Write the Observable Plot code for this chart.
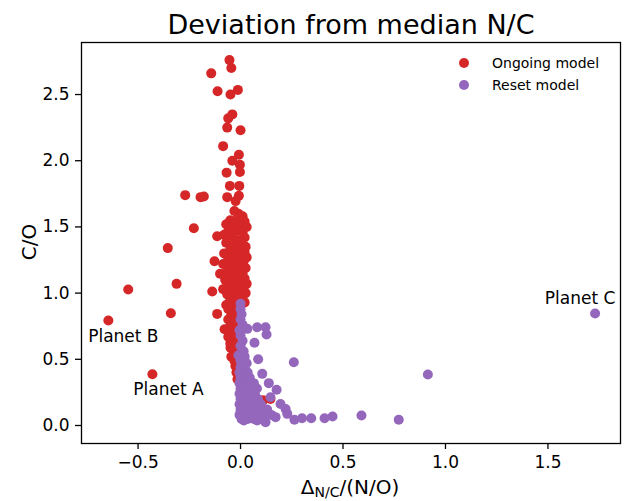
<!DOCTYPE html>
<html>
<head>
<meta charset="utf-8">
<script src="https://cdn.jsdelivr.net/npm/d3@7"></script>
<script src="https://cdn.jsdelivr.net/npm/@observablehq/plot@0.6"></script>
<style>
  html, body { margin: 0; padding: 0; background: #fff; }
  #wrap { position: relative; width: 628px; height: 501px; font-family: "DejaVu Sans", sans-serif; color: #000; }
  #wrap svg { position: absolute; left: 0; top: 0; }
  .lab { position: absolute; line-height: 1; white-space: nowrap; transform: translate(-50%, -50%); }
  .leg { position: absolute; line-height: 1; white-space: nowrap; font-size: 14px; transform: translateY(-50%); }
  .sw { position: absolute; width: 10px; height: 10px; border-radius: 50%; transform: translate(-50%, -50%); }
  sub { font-size: 70%; vertical-align: -0.25em; }
</style>
</head>
<body>
<div id="wrap"></div>
<script>
// ---- data ----
const titleText = "Deviation from median N/C";
const xTicks = [-0.5, 0.0, 0.5, 1.0, 1.5];
const yTicks = [0.0, 0.5, 1.0, 1.5, 2.0, 2.5];
const seriesNames = ["Ongoing model", "Reset model"];

// Ongoing model: [Δ_N/C/(N/O), C/O]
const ongoing = [
  [-0.054,2.76],[-0.045,2.70],[-0.143,2.66],[-0.112,2.525],[-0.049,2.50],[-0.013,2.535],
  [-0.04,2.35],[-0.06,2.32],[-0.065,2.25],[0.0,2.23],[-0.085,2.11],[-0.008,2.045],
  [-0.04,2.0],[-0.003,1.97],[-0.068,1.91],[-0.003,1.915],[-0.052,1.81],[-0.006,1.81],
  [-0.27,1.74],[-0.195,1.725],[-0.179,1.73],[-0.065,1.725],[-0.008,1.735],[-0.024,1.695],
  [-0.228,1.49],[-0.114,1.43],[-0.355,1.34],[-0.548,1.027],[-0.312,1.07],[-0.645,0.793],
  [-0.34,0.848],[-0.43,0.387],[-0.138,1.012],[-0.127,1.24],[-0.10,1.146],[-0.114,0.843],
  [-0.078,0.727],[-0.049,0.587],[-0.073,1.035],
  [-0.03,1.62],[-0.01,1.60],[0.01,1.58],[-0.05,1.55],[-0.02,1.55],[0.02,1.54],[-0.07,1.52],
  [-0.04,1.50],[0.0,1.51],[0.03,1.50],[-0.06,1.47],[-0.02,1.47],[0.01,1.46],[-0.08,1.44],
  [-0.04,1.43],[0.02,1.42],[-0.01,1.40],
  [-0.07,1.38],[-0.03,1.37],[0.0,1.36],[0.025,1.35],[-0.05,1.33],[-0.015,1.32],[0.02,1.31],
  [-0.08,1.30],[-0.035,1.29],[0.005,1.28],[0.03,1.27],[-0.06,1.26],[-0.02,1.25],[0.015,1.24],
  [-0.085,1.22],[-0.045,1.21],[-0.005,1.20],[0.025,1.19],[-0.065,1.17],[-0.03,1.16],[0.01,1.15],
  [-0.05,1.13],[-0.01,1.12],[0.02,1.11],[-0.075,1.10],[-0.035,1.09],[0.0,1.08],[0.03,1.07],
  [-0.055,1.06],[-0.02,1.05],[0.015,1.04],[-0.085,1.03],[-0.04,1.02],[-0.005,1.01],[0.025,1.0],
  [-0.065,0.99],[-0.025,0.98],[0.01,0.97],[-0.05,0.95],[-0.01,0.94],[0.02,0.93],[-0.07,0.91],
  [-0.03,0.90],
  [-0.06,0.88],[-0.02,0.87],[-0.045,0.84],[-0.01,0.83],[-0.06,0.80],[-0.03,0.78],[-0.05,0.75],
  [-0.015,0.74],[-0.04,0.70],[-0.06,0.67],[-0.025,0.65],[-0.05,0.62],[-0.035,0.58],[-0.02,0.55],
  [-0.045,0.52],[-0.03,0.49],[-0.025,0.45],[-0.02,0.40],[-0.015,0.35],[0.11,0.19],[0.146,0.2],
  [0.05,0.25],[0.08,0.15]
];

// Reset model: [Δ_N/C/(N/O), C/O]
const reset = [
  [1.73,0.846],[0.914,0.385],[0.772,0.043],[0.59,0.075],[0.449,0.068],[0.41,0.055],[0.345,0.055],
  [0.30,0.055],[0.263,0.043],[0.26,0.478],[0.228,0.088],[0.22,0.125],[0.195,0.163],[0.176,0.27],
  [0.146,0.214],[0.138,0.32],[0.106,0.39],[0.086,0.50],[0.068,0.625],[0.033,0.73],[0.081,0.742],
  [0.122,0.742],[0.127,0.687],[0.171,0.063],[0.122,0.025],[0.081,0.038],[0.016,0.038],[0.0,0.92],
  [0.0,0.88],[0.005,0.84],[0.0,0.80],[0.01,0.76],[-0.005,0.72],[0.0,0.68],[0.01,0.64],[0.0,0.60],
  [0.015,0.56],[-0.01,0.53],[0.02,0.52],[0.0,0.49],[0.03,0.47],
  [0.0,0.44],[0.02,0.44],
  [-0.005,0.40],[0.015,0.40],[0.035,0.40],
  [0.0,0.36],[0.02,0.36],[0.045,0.36],
  [-0.005,0.32],[0.015,0.32],[0.04,0.32],[0.065,0.32],
  [0.0,0.28],[0.02,0.28],[0.05,0.28],[0.08,0.28],
  [-0.005,0.24],[0.015,0.24],[0.04,0.24],[0.07,0.24],
  [0.0,0.20],[0.025,0.20],[0.05,0.20],[0.085,0.20],
  [-0.005,0.16],[0.02,0.16],[0.045,0.16],[0.075,0.16],[0.1,0.16],
  [0.0,0.12],[0.025,0.12],[0.055,0.12],[0.09,0.12],[0.13,0.12],
  [-0.005,0.08],[0.02,0.08],[0.05,0.08],[0.08,0.08],[0.11,0.08],[0.15,0.08],
  [0.005,0.05],[0.035,0.05],[0.065,0.05],[0.1,0.05]
];

// Annotated planets
const planetNames = ["Planet A", "Planet B", "Planet C"];
const planetX = [-0.43, -0.645, 1.73];
const planetY = [0.387, 0.793, 0.846];

// ---- styles ----
const RED = "#d62728", PURPLE = "#9467bd";
const labelShift = {"Planet A": [16, 15], "Planet B": [15, 16], "Planet C": [-15, -15]};
const planets = planetNames.map((n, i) => ({name: n, x: planetX[i], y: planetY[i]}));
const fmt = d3.format(".1f");

const chart = Plot.plot({
  width: 628,
  height: 501,
  marginTop: 42,
  marginBottom: 58,
  marginLeft: 81,
  marginRight: 8,
  x: {domain: [-0.776, 1.854]},
  y: {domain: [-0.136, 2.893]},
  style: {fontFamily: "'DejaVu Sans', sans-serif", fontSize: "17px", color: "#000", background: "transparent"},
  marks: [
    Plot.axisX({ticks: xTicks, tickFormat: fmt, tickSize: 6, tickPadding: 6, label: null, fontSize: 17, strokeWidth: 1.3}),
    Plot.axisY({ticks: yTicks, tickFormat: fmt, tickSize: 6, tickPadding: 6, label: null, fontSize: 17, strokeWidth: 1.3}),
    Plot.dot(ongoing, {x: d => d[0], y: d => d[1], r: 5, fill: RED, stroke: "none"}),
    Plot.dot(reset, {x: d => d[0], y: d => d[1], r: 5, fill: PURPLE, stroke: "none"}),
    ...planets.map(p => Plot.text([p], {x: "x", y: "y", text: "name", fontSize: 17, fill: "#000",
      dx: labelShift[p.name][0], dy: labelShift[p.name][1]})),
    Plot.frame({stroke: "#000", strokeWidth: 1.3})
  ]
});

const wrap = document.getElementById("wrap");
wrap.appendChild(chart);

function addLabel(html, x, y, size, rotate) {
  const d = document.createElement("div");
  d.className = "lab";
  d.style.left = x + "px";
  d.style.top = y + "px";
  d.style.fontSize = size + "px";
  if (rotate) d.style.transform = "translate(-50%, -50%) rotate(-90deg)";
  d.innerHTML = html;
  wrap.appendChild(d);
}
addLabel(titleText, 351, 24, 27);
addLabel("Δ<sub>N/C</sub>/(N/O)", 350, 488, 20);
addLabel("C/O", 29, 242, 20, true);

// legend
const legendColors = [RED, PURPLE];
seriesNames.forEach((name, i) => {
  const cy = 63 + i * 22;
  const s = document.createElement("div");
  s.className = "sw";
  s.style.left = "464px";
  s.style.top = cy + "px";
  s.style.background = legendColors[i];
  wrap.appendChild(s);
  const t = document.createElement("div");
  t.className = "leg";
  t.style.left = "492px";
  t.style.top = cy + "px";
  t.textContent = name;
  wrap.appendChild(t);
});
</script>
</body>
</html>
